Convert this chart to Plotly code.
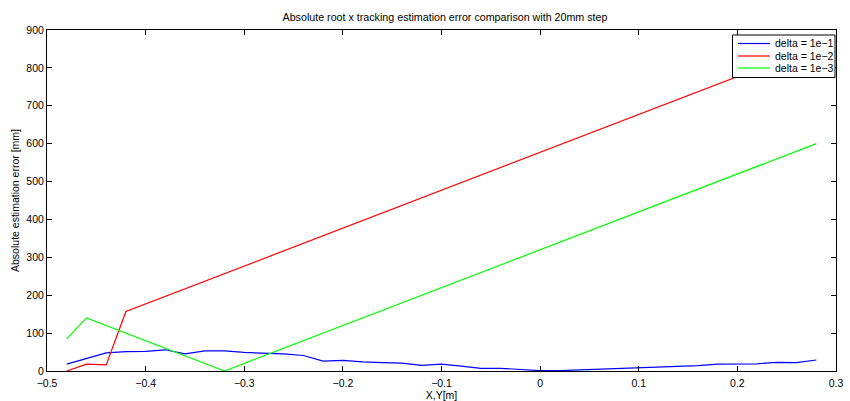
import plotly.graph_objects as go

# Data
blue_x = [-0.48, -0.46, -0.44, -0.42, -0.40, -0.38, -0.36, -0.34, -0.32, -0.30, -0.28, -0.26, -0.24, -0.22,
          -0.20, -0.18, -0.16, -0.14, -0.12, -0.10, -0.08, -0.06, -0.04, -0.02, 0.00, 0.02, 0.04, 0.06,
          0.08, 0.10, 0.12, 0.14, 0.16, 0.18, 0.20, 0.22, 0.24, 0.26, 0.28]
blue_y = [18, 34, 48, 51, 52, 56, 45, 53, 53, 49, 47, 45, 41, 26,
          28, 24, 22, 21, 15, 18, 13, 7, 7, 4, 1, 1, 3, 5,
          7, 9, 10, 12, 14, 18, 19, 19, 23, 22, 29]

red_x = [-0.48, -0.46, -0.44, -0.42, 0.28]
red_y = [0, 18, 16, 157, 857]

green_x = [-0.48, -0.46, -0.32, 0.28]
green_y = [85, 140, 0, 600]

series_names = ["delta = 1e\u22121", "delta = 1e\u22122", "delta = 1e\u22123"]
series_colors = ["#0000ff", "#ff0000", "#00ff00"]
series_x = [blue_x, red_x, green_x]
series_y = [blue_y, red_y, green_y]

x_ticks = [-0.5, -0.4, -0.3, -0.2, -0.1, 0, 0.1, 0.2, 0.3]
x_tick_labels = ["\u22120.5", "\u22120.4", "\u22120.3", "\u22120.2", "\u22120.1", "0", "0.1", "0.2", "0.3"]
y_ticks = [0, 100, 200, 300, 400, 500, 600, 700, 800, 900]

W, H = 850, 401
ML, MR, MT, MB = 47, 14, 30, 30
PW, PH = W - ML - MR, H - MT - MB


def px_x(p):
    return (p - ML) / PW


def px_y(p):
    return (H - MB - p) / PH


fig = go.Figure()
for name, xs, ys, col in zip(series_names, series_x, series_y, series_colors):
    fig.add_trace(go.Scatter(x=xs, y=ys, mode="lines", name=name, showlegend=False,
                             line=dict(color=col, width=1.2)))

font = dict(family="Liberation Sans, Arial, sans-serif", size=10.5, color="black")

# Custom compact legend (MATLAB style)
shapes = [dict(type="rect", xref="paper", yref="paper",
               x0=px_x(732.5), x1=px_x(835), y0=px_y(77.5), y1=px_y(35),
               fillcolor="white", line=dict(color="black", width=1), layer="above")]
annotations = []
rows = [43.5, 56, 68]
for name, col, ry in zip(series_names, series_colors, rows):
    shapes.append(dict(type="line", xref="paper", yref="paper",
                       x0=px_x(738), x1=px_x(770), y0=px_y(ry), y1=px_y(ry),
                       line=dict(color=col, width=1.2), layer="above"))
    annotations.append(dict(text=name, xref="paper", yref="paper", x=px_x(773), y=px_y(ry),
                            xanchor="left", yanchor="middle", showarrow=False,
                            font=dict(size=10.5)))

fig.update_layout(
    width=W, height=H,
    margin=dict(l=ML, r=MR, t=MT, b=MB),
    paper_bgcolor="white", plot_bgcolor="white",
    font=font,
    title=dict(text="Absolute root x tracking estimation error comparison with 20mm step",
               x=(445 / W), xref="container", xanchor="center", y=1 - 17 / H, yanchor="middle",
               font=dict(size=10.7), automargin=False),
    showlegend=False,
    shapes=shapes,
    annotations=annotations,
    xaxis=dict(range=[-0.5, 0.3], tickvals=x_ticks, ticktext=x_tick_labels, automargin=False,
               ticks="inside", ticklen=5, tickcolor="black", showgrid=False, zeroline=False,
               showline=True, linecolor="black", linewidth=1, mirror="ticks",
               ticklabelstandoff=2,
               title=dict(text="X,Y[m]", standoff=0, font=dict(size=10.5))),
    yaxis=dict(range=[0, 900], tickvals=y_ticks, automargin=False,
               ticks="inside", ticklen=5, tickcolor="black", showgrid=False, zeroline=False,
               showline=True, linecolor="black", linewidth=1, mirror="ticks",
               title=dict(text="Absolute estimation error [mm]", standoff=4, font=dict(size=10.5))),
)

fig.write_html("out.html", config={"displayModeBar": False},
               post_script="document.body.style.margin='0';")
